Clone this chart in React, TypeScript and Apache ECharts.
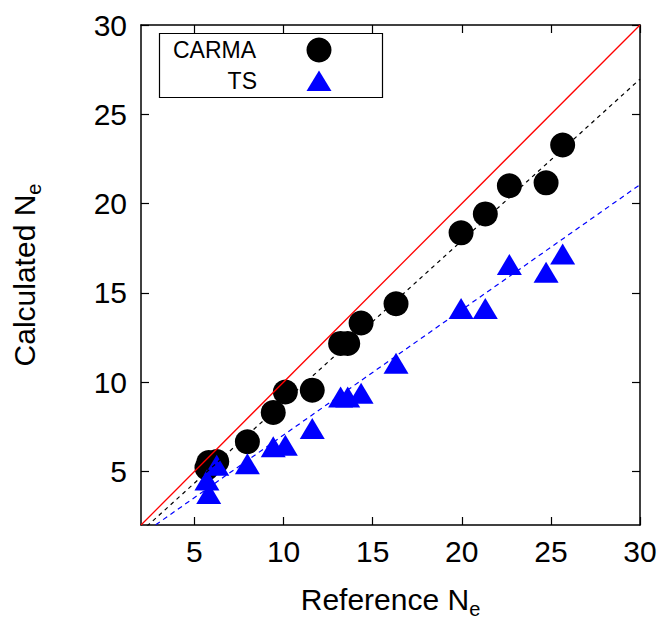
import React, { useEffect, useRef } from "react";
import * as echarts from "echarts";

// Reference N_e (shared x values)
const refNe = [5.7, 5.8, 6.25, 7.97, 9.42, 10.1, 11.61, 13.2, 13.6, 14.35, 16.31, 19.96, 21.32, 22.67, 24.73, 25.66];
// Calculated N_e, CARMA
const carmaNe = [5.2, 5.5, 5.55, 6.66, 8.3, 9.45, 9.55, 12.17, 12.17, 13.31, 14.39, 18.36, 19.42, 21.0, 21.16, 23.28];
// Calculated N_e, TS
const tsNe = [4.52, 3.77, 5.35, 5.43, 6.38, 6.47, 7.41, 9.17, 9.17, 9.38, 11.06, 14.13, 14.13, 16.59, 16.16, 17.17];
// Fit lines [slope, intercept]
const carmaFit = [0.905, -0.18];
const tsFit = [0.701, 0.03];
const identity = [1, 0];
const axisRange = [2, 30];
const tickValues = [5, 10, 15, 20, 25, 30];

const FONT = "Liberation Sans, Arial, Helvetica, sans-serif";

function lineData(fit: number[]) {
  return axisRange.map((x) => [x, fit[0] * x + fit[1]]);
}

export default function App() {
  const ref = useRef<HTMLDivElement>(null);
  useEffect(() => {
    document.body.style.margin = "0";
    const chart = echarts.init(ref.current!, null, { renderer: "svg" });
    const axisLine = { show: true, lineStyle: { color: "#000", width: 1.5 } };
    const tick = { show: true, inside: true, length: 8, customValues: tickValues, lineStyle: { color: "#000", width: 1.2 } };
    const label = { show: true, customValues: tickValues, fontSize: 30, color: "#000", fontFamily: FONT };
    const nameRich = {
      m: { fontSize: 30, lineHeight: 30, fontFamily: FONT, color: "#000" },
      s: { fontSize: 20, lineHeight: 10, fontFamily: FONT, color: "#000", padding: [20, 0, 0, 0] },
    };
    chart.setOption({
      animation: false,
      grid: { left: 141, right: 24, top: 25, bottom: 94, containLabel: false, outerBoundsMode: "none" },
      xAxis: [
        {
          type: "value", min: axisRange[0], max: axisRange[1], position: "bottom",
          axisLine, axisTick: tick, axisLabel: { ...label, margin: 11 }, splitLine: { show: false },
          name: "{m|Reference N}{s|e}", nameLocation: "middle", nameGap: 59,
          nameTextStyle: { rich: nameRich },
        },
        {
          type: "value", min: axisRange[0], max: axisRange[1], position: "top",
          axisLine, axisTick: tick, axisLabel: { show: false }, splitLine: { show: false },
        },
      ],
      yAxis: [
        {
          type: "value", min: axisRange[0], max: axisRange[1], position: "left",
          axisLine, axisTick: tick, axisLabel: { ...label, margin: 14 }, splitLine: { show: false },
          name: "{m|Calculated N}{s|e}", nameLocation: "middle", nameGap: 102,
          nameTextStyle: { rich: nameRich },
        },
        {
          type: "value", min: axisRange[0], max: axisRange[1], position: "right",
          axisLine, axisTick: tick, axisLabel: { show: false }, splitLine: { show: false },
        },
      ],
      series: [
        {
          name: "CARMA", type: "scatter", symbol: "circle", symbolSize: 25,
          itemStyle: { color: "#000", opacity: 1 }, z: 2,
          data: refNe.map((x, i) => [x, carmaNe[i]]),
        },
        {
          name: "TS", type: "scatter", symbol: "triangle", symbolSize: [25, 21],
          itemStyle: { color: "#0000ff", opacity: 1 }, z: 3,
          data: refNe.map((x, i) => [x, tsNe[i]]),
        },
        {
          type: "line", data: lineData(identity), symbol: "none", z: 4, clip: true,
          lineStyle: { color: "#ff0000", width: 1.3 },
        },
        {
          type: "line", data: lineData(carmaFit), symbol: "none", z: 4, clip: true,
          lineStyle: { color: "#000", width: 1.2, type: [4, 4] },
        },
        {
          type: "line", data: lineData(tsFit), symbol: "none", z: 4, clip: true,
          lineStyle: { color: "#0000ff", width: 1.2, type: [5, 4] },
        },
      ],
      graphic: [
        {
          type: "rect", shape: { x: 159.5, y: 33.5, width: 223, height: 64 },
          style: { fill: "#fff", stroke: "#000", lineWidth: 1.2 }, z: 10,
        },
        {
          type: "text", x: 173, y: 50, z: 11,
          style: { text: "CARMA", fontSize: 23, fontFamily: FONT, fill: "#000", align: "left", verticalAlign: "middle" },
        },
        {
          type: "text", x: 257, y: 81, z: 11,
          style: { text: "TS", fontSize: 23, fontFamily: FONT, fill: "#000", align: "right", verticalAlign: "middle" },
        },
        {
          type: "circle", shape: { cx: 319, cy: 50, r: 12.5 }, style: { fill: "#000" }, z: 11,
        },
        {
          type: "polygon", shape: { points: [[319, 70.5], [331.5, 91], [306.5, 91]] }, style: { fill: "#0000ff" }, z: 11,
        },
      ],
    });
    return () => chart.dispose();
  }, []);
  return <div ref={ref} style={{ width: 664, height: 619 }} />;
}
